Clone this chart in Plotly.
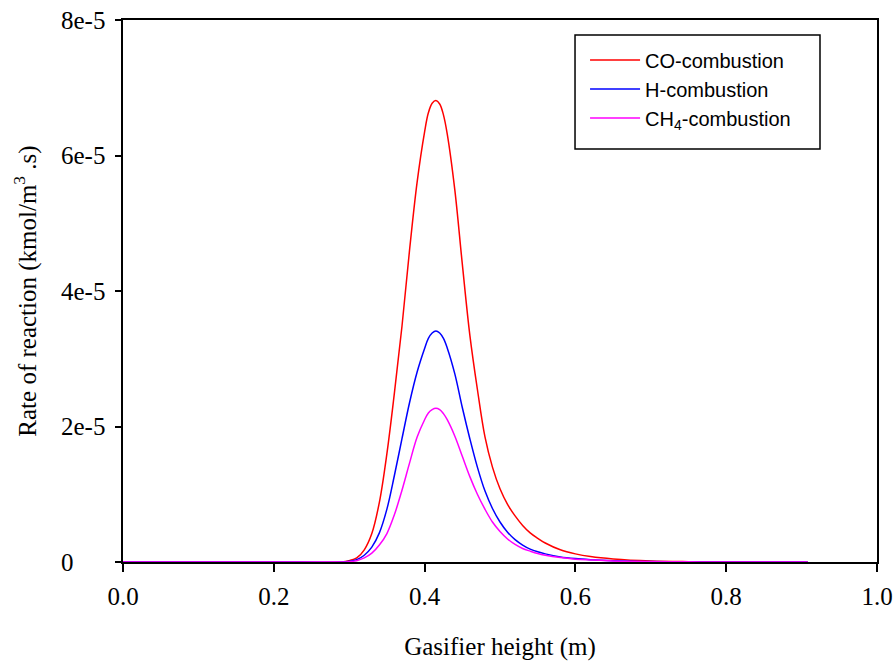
import plotly.graph_objects as go

# Gasifier height (m)
height = [0.0, 0.1, 0.2, 0.29, 0.30, 0.31, 0.32, 0.33, 0.34, 0.35, 0.36, 0.37, 0.38, 0.39,
          0.40, 0.405, 0.41, 0.415, 0.42, 0.425, 0.43, 0.44, 0.45, 0.46, 0.47, 0.48, 0.49,
          0.50, 0.51, 0.52, 0.53, 0.54, 0.55, 0.56, 0.58, 0.60, 0.62, 0.65, 0.70, 0.75,
          0.80, 0.908]

# Rates of reaction (x1e-6 kmol/m3.s)
co_comb = [0, 0, 0, 0, 0.2, 0.6, 1.8, 4.2, 8.8, 16.0, 25.0, 34.8, 46.0, 56.0,
           63.5, 66.3, 67.7, 68.1, 67.6, 66.0, 63.2, 55.0, 44.0, 33.5, 25.5, 18.5, 14.0,
           10.8, 8.5, 6.8, 5.4, 4.3, 3.5, 2.8, 1.8, 1.2, 0.8, 0.45, 0.15, 0.05,
           0.02, 0]
h_comb = [0, 0, 0, 0, 0.1, 0.35, 1.0, 2.2, 4.3, 7.8, 12.8, 18.2, 23.5, 28.0,
          31.5, 33.0, 33.8, 34.1, 33.8, 33.0, 31.6, 27.8, 22.8, 18.2, 14.0, 10.5, 7.9,
          5.9, 4.4, 3.3, 2.5, 1.9, 1.5, 1.2, 0.75, 0.5, 0.35, 0.2, 0.07, 0.02,
          0, 0]
ch4_comb = [0, 0, 0, 0, 0.05, 0.2, 0.6, 1.3, 2.5, 4.2, 7.0, 10.6, 14.6, 18.4,
            21.0, 22.0, 22.5, 22.7, 22.5, 21.9, 21.0, 18.6, 15.6, 12.6, 10.0, 7.8, 5.9,
            4.5, 3.4, 2.6, 2.0, 1.6, 1.25, 1.0, 0.65, 0.42, 0.3, 0.15, 0.05, 0.02,
            0, 0]

names = ["CO-combustion", "H-combustion", "CH<sub>4</sub>-combustion"]
colors = ["#ff0000", "#0000ff", "#ff00ff"]
series = [co_comb, h_comb, ch4_comb]

x_ticks = [0, 0.2, 0.4, 0.6, 0.8, 1.0]
x_ticklabels = ["0.0", "0.2", "0.4", "0.6", "0.8", "1.0"]
y_ticks = [0, 2e-5, 4e-5, 6e-5, 8e-5]
y_ticklabels = ["0", "2e-5", "4e-5", "6e-5", "8e-5"]

serif = "Liberation Serif, Times New Roman, serif"
sans = "Liberation Sans, Arial, sans-serif"

fig = go.Figure()
for name, col, vals in zip(names, colors, series):
    fig.add_trace(go.Scatter(
        x=height, y=[v * 1e-6 for v in vals], mode="lines", name=name,
        line=dict(color=col, width=1.5, shape="spline", smoothing=1.0),
    ))

fig.update_layout(
    width=895, height=664,
    margin=dict(l=123, r=18, t=20, b=102),
    paper_bgcolor="white", plot_bgcolor="white",
    xaxis=dict(range=[0, 1.0], tickvals=x_ticks, ticktext=x_ticklabels,
               showgrid=False, zeroline=False, showline=True, linecolor="black",
               linewidth=1.5, mirror=True, ticks="outside", ticklen=8, tickwidth=1.5,
               tickcolor="black", ticklabelstandoff=3,
               tickfont=dict(family=serif, size=25, color="black"),
               automargin=False,
               title=dict(text="Gasifier height (m)",
                          font=dict(family=serif, size=25, color="black"), standoff=29)),
    yaxis=dict(range=[0, 8e-5], tickvals=y_ticks, showticklabels=False,
               showgrid=False, zeroline=False, showline=True, linecolor="black",
               linewidth=1.5, mirror=True, ticks="outside", ticklen=6, tickwidth=1.5,
               tickcolor="black", automargin=False,
               title=dict(text="Rate of reaction (kmol/m<sup>3</sup> .s)",
                          font=dict(family=serif, size=25, color="black"), standoff=72)),
    legend=dict(x=0.6128, y=0.9622, xanchor="left", yanchor="top",
                borderwidth=0, bgcolor="rgba(0,0,0,0)",
                font=dict(family=sans, size=20, color="black"),
                itemwidth=50),
    showlegend=True,
)

# legend frame
fig.add_shape(type="rect", xref="paper", yref="paper",
              x0=0.5995, x1=0.9244, y0=0.762, y1=0.9723,
              line=dict(color="black", width=1.5), fillcolor="rgba(0,0,0,0)")

# left-aligned y tick labels
for v, t in zip(y_ticks, y_ticklabels):
    fig.add_annotation(x=-0.0849, xref="paper", y=v, yref="y", text=t,
                       showarrow=False, xanchor="left", yanchor="middle",
                       font=dict(family=serif, size=25, color="black"))

fig.write_html("out.html")
